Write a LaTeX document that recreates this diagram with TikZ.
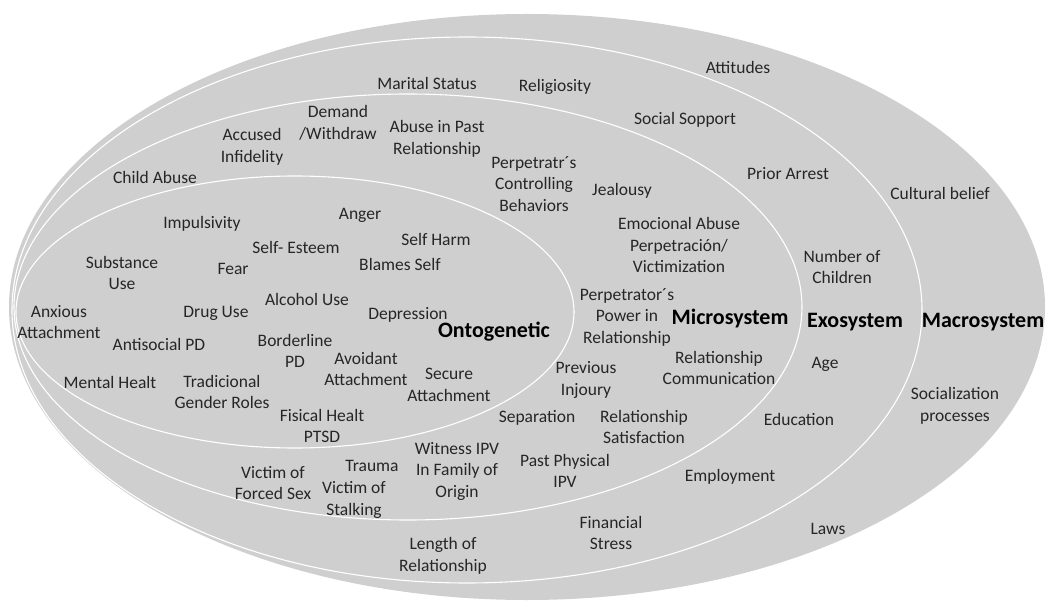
\documentclass[tikz,border=0pt]{standalone}
\usepackage{fontspec}
\setmainfont{Carlito}
\definecolor{bggray}{RGB}{208,207,207}
\definecolor{txtgray}{RGB}{38,38,38}
\begin{document}
\begin{tikzpicture}[x=1pt,y=-1pt,
	factor/.style={text=txtgray, align=center, inner sep=0pt, font=\fontsize{17.5}{21.5}\selectfont},
	sysname/.style={text=black, align=center, inner sep=0pt, font=\fontsize{22}{26}\selectfont\bfseries},
	ring/.style={white, line width=1.1pt}]
	\useasboundingbox (0,0) rectangle (1046,601);
	\fill [bggray] (527,307) ellipse [x radius=518, y radius=293];
	\draw [ring] (467,310) ellipse [x radius=455, y radius=273];
	\draw [ring] (408,307) ellipse [x radius=394, y radius=213];
	\draw [ring] (295,312) ellipse [x radius=279, y radius=136];
	% system names
	\node [sysname] (onto) at (494,332) {Ontogenetic};
	\node [sysname] (micro) at (730,319) {Microsystem};
	\node [sysname] (exo) at (855,322) {Exosystem};
	\node [sysname] (macro) at (983,322) {Macrosystem};
	% ontogenetic
	\node [factor] (impuls) at (202,224) {Impulsivity};
	\node [factor] (anger) at (360,215) {Anger};
	\node [factor] (selfharm) at (436,239) {Self Harm};
	\node [factor] (esteem) at (296,247) {Self- Esteem};
	\node [factor] (substance) at (122,273) {Substance\\Use};
	\node [factor] (fear) at (233,269) {Fear};
	\node [factor] (blames) at (400,264) {Blames Self};
	\node [factor] (alcohol) at (307,299) {Alcohol Use};
	\node [factor] (anxious) at (59,322) {Anxious\\Attachment};
	\node [factor] (drug) at (216,313) {Drug Use};
	\node [factor] (depress) at (408,315) {Depression};
	\node [factor] (antisoc) at (159,344) {Antisocial PD};
	\node [factor] (border) at (295,351) {Borderline\\PD};
	\node [factor] (avoid) at (366,369) {Avoidant\\Attachment};
	\node [factor] (mental) at (110,382) {Mental Healt};
	\node [factor] (gender) at (222,392) {Tradicional\\Gender Roles};
	\node [factor] (secure) at (449,385) {Secure\\Attachment};
	\node [factor] (fisical) at (322,426) {Fisical Healt\\PTSD};
	% microsystem
	\node [factor] (child) at (155,177) {Child Abuse};
	\node [factor] (accused) at (252,147) {Accused\\Infidelity};
	\node [factor] (demand) at (338,123) {Demand\\/Withdraw};
	\node [factor] (pastabuse) at (437,139) {Abuse in Past\\Relationship};
	\node [factor] (control) at (534,184) {Perpetratr´s\\Controlling\\Behaviors};
	\node [factor] (jealousy) at (622,191) {Jealousy};
	\node [factor] (emocional) at (679,245) {Emocional Abuse\\Perpetración/\\Victimization};
	\node [factor] (power) at (627,317) {Perpetrator´s\\Power in\\Relationship};
	\node [factor] (commun) at (719,368) {Relationship\\Communication};
	\node [factor] (injoury) at (586,380) {Previous\\Injoury};
	\node [factor] (separ) at (537,418) {Separation};
	\node [factor] (satisf) at (644,427) {Relationship\\Satisfaction};
	\node [factor] (pastphys) at (565,471) {Past Physical\\IPV};
	\node [factor] (witness) at (457,471) {Witness IPV\\In Family of\\Origin};
	\node [factor] (trauma) at (372,466) {Trauma};
	\node [factor] (forced) at (273,483) {Victim of\\Forced Sex};
	\node [factor] (stalking) at (354,500) {Victim of\\Stalking};
	% exosystem
	\node [factor] (marital) at (427,83) {Marital Status};
	\node [factor] (relig) at (555,87) {Religiosity};
	\node [factor] (social) at (685,120) {Social Sopport};
	\node [factor] (arrest) at (788,174) {Prior Arrest};
	\node [factor] (children) at (842,267) {Number of\\Children};
	\node [factor] (age) at (825,364) {Age};
	\node [factor] (educ) at (799,419) {Education};
	\node [factor] (employ) at (730,477) {Employment};
	\node [factor] (financial) at (611,533) {Financial\\Stress};
	\node [factor] (length) at (443,556) {Length of\\Relationship};
	% macrosystem
	\node [factor] (attitudes) at (738,67) {Attitudes};
	\node [factor] (cultural) at (940,193) {Cultural belief};
	\node [factor] (socializ) at (955,406) {Socialization\\processes};
	\node [factor] (laws) at (828,529) {Laws};
\end{tikzpicture}
\end{document}
